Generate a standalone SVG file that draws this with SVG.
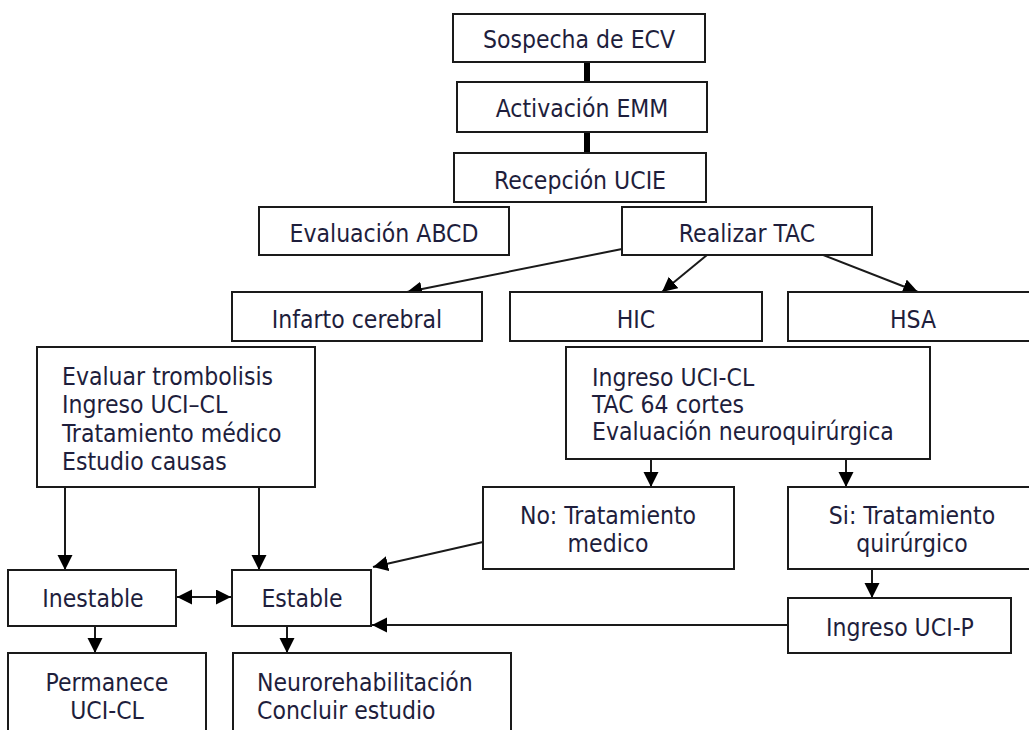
<svg xmlns="http://www.w3.org/2000/svg" width="1029" height="730" viewBox="0 0 1029 730">
<style>
.box{fill:#fff;stroke:#1a1a1a;stroke-width:2}
.t{font-family:"DejaVu Sans Condensed","DejaVu Sans",sans-serif;font-stretch:condensed;font-size:24.5px;fill:#1e1e3c}
.c{text-anchor:middle}
.ln{stroke:#1a1a1a;stroke-width:2;fill:none}
.thick{stroke:#000;stroke-width:6;fill:none}
</style>
<defs>
<marker id="ah" markerUnits="userSpaceOnUse" markerWidth="16" markerHeight="16" refX="15" refY="7.5" orient="auto-start-reverse">
<path d="M0,0 L15,7.5 L0,15 z" fill="#000"/>
</marker>
</defs>
<rect width="1029" height="730" fill="#fff"/>
<g id="connectors">
<line class="thick" x1="587" y1="62" x2="587" y2="82"/>
<line class="thick" x1="587" y1="132" x2="587" y2="153"/>
<line class="ln" x1="622" y1="249" x2="407" y2="292" marker-end="url(#ah)"/>
<line class="ln" x1="707" y1="255" x2="662" y2="292" marker-end="url(#ah)"/>
<line class="ln" x1="818" y1="253" x2="918" y2="292" marker-end="url(#ah)"/>
<line class="ln" x1="651" y1="459" x2="651" y2="487" marker-end="url(#ah)"/>
<line class="ln" x1="846" y1="459" x2="846" y2="487" marker-end="url(#ah)"/>
<line class="ln" x1="65" y1="487" x2="65" y2="570" marker-end="url(#ah)"/>
<line class="ln" x1="259" y1="487" x2="259" y2="570" marker-end="url(#ah)"/>
<line class="ln" x1="177" y1="597" x2="231" y2="597" marker-start="url(#ah)" marker-end="url(#ah)"/>
<line class="ln" x1="483" y1="542" x2="373" y2="567" marker-end="url(#ah)"/>
<line class="ln" x1="788" y1="625" x2="372" y2="625" marker-end="url(#ah)"/>
<line class="ln" x1="95" y1="626" x2="95" y2="653" marker-end="url(#ah)"/>
<line class="ln" x1="287" y1="626" x2="287" y2="653" marker-end="url(#ah)"/>
<line class="ln" x1="872" y1="569" x2="872" y2="598" marker-end="url(#ah)"/>
</g>
<g id="sospecha"><rect class="box" x="453" y="14" width="252" height="48"/><text class="t c" x="579" y="48">Sospecha de ECV</text></g>
<g id="activacion"><rect class="box" x="457" y="82" width="250" height="50"/><text class="t c" x="582" y="117">Activación EMM</text></g>
<g id="recepcion"><rect class="box" x="454" y="153" width="252" height="49"/><text class="t c" x="580" y="189">Recepción UCIE</text></g>
<g id="abcd"><rect class="box" x="259" y="207" width="250" height="48"/><text class="t c" x="384" y="242">Evaluación ABCD</text></g>
<g id="tac"><rect class="box" x="622" y="207" width="250" height="48"/><text class="t c" x="747" y="242">Realizar TAC</text></g>
<g id="infarto"><rect class="box" x="232" y="292" width="250" height="49"/><text class="t c" x="357" y="328">Infarto cerebral</text></g>
<g id="hic"><rect class="box" x="510" y="292" width="252" height="49"/><text class="t c" x="636" y="328">HIC</text></g>
<g id="hsa"><rect class="box" x="788" y="292" width="250" height="49"/><text class="t c" x="913" y="328">HSA</text></g>
<g id="infarto-acciones"><rect class="box" x="37" y="347" width="278" height="140"/>
<text class="t" x="62" y="385">Evaluar trombolisis</text>
<text class="t" x="62" y="413">Ingreso UCI–CL</text>
<text class="t" x="62" y="442">Tratamiento médico</text>
<text class="t" x="62" y="470">Estudio causas</text></g>
<g id="hic-acciones"><rect class="box" x="566" y="347" width="364" height="112"/>
<text class="t" x="592" y="386">Ingreso UCI-CL</text>
<text class="t" x="592" y="413">TAC 64 cortes</text>
<text class="t" x="592" y="440">Evaluación neuroquirúrgica</text></g>
<g id="no-tratamiento"><rect class="box" x="483" y="487" width="251" height="82"/>
<text class="t c" x="608" y="524">No: Tratamiento</text>
<text class="t c" x="608" y="552">medico</text></g>
<g id="si-tratamiento"><rect class="box" x="788" y="487" width="250" height="82"/>
<text class="t c" x="912" y="524">Si: Tratamiento</text>
<text class="t c" x="912" y="552">quirúrgico</text></g>
<g id="ingreso-ucip"><rect class="box" x="788" y="598" width="223" height="55"/><text class="t c" x="900" y="636">Ingreso UCI-P</text></g>
<g id="inestable"><rect class="box" x="8" y="570" width="168" height="56"/><text class="t c" x="93" y="607">Inestable</text></g>
<g id="estable"><rect class="box" x="232" y="570" width="139" height="56"/><text class="t c" x="302" y="607">Estable</text></g>
<g id="permanece"><rect class="box" x="8" y="653" width="198" height="90"/>
<text class="t c" x="107" y="691">Permanece</text>
<text class="t c" x="107" y="719">UCI-CL</text></g>
<g id="neurorehab"><rect class="box" x="233" y="653" width="278" height="90"/>
<text class="t" x="257" y="691">Neurorehabilitación</text>
<text class="t" x="257" y="719">Concluir estudio</text></g>
</svg>
